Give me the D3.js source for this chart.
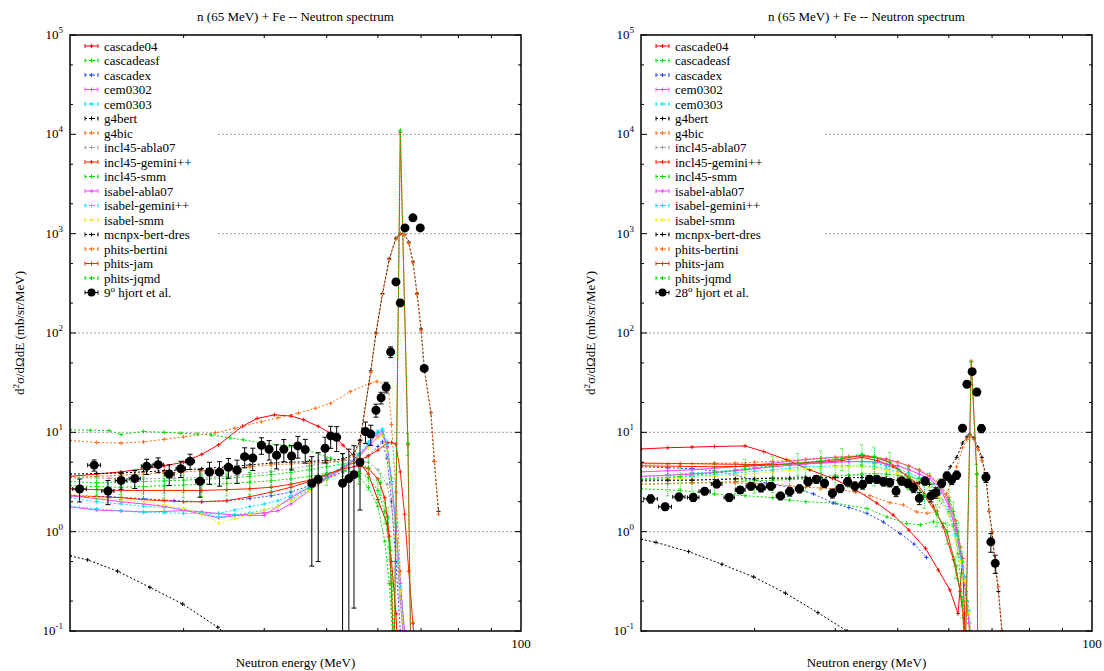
<!DOCTYPE html>
<html>
<head>
<meta charset="utf-8">
<script src="https://cdn.jsdelivr.net/npm/d3@7"></script>
<style>
  body { margin: 0; background: #fff; }
</style>
</head>
<body>
<svg id="chart" width="1104" height="671"></svg>
<script>
// ---- model names and styles (legend order) ----
const modelNames = ["cascade04","cascadeasf","cascadex","cem0302","cem0303","g4bert","g4bic",
  "incl45-abla07","incl45-gemini++","incl45-smm","isabel-abla07","isabel-gemini++","isabel-smm",
  "mcnpx-bert-dres","phits-bertini","phits-jam","phits-jqmd"];
const modelColors = ["#ff0000","#00e000","#2848ff","#ff40ff","#00e0ff","#000000","#ff6a10",
  "#a0a0a0","#ff2000","#00e000","#ff40ff","#00e0ff","#f0f000","#000000","#ff6a10","#ff2000","#00e000"];
const modelDash = ["","2,2","2,2","","2,2","2,2","2,2","2,2","","2,2","","2,2","2,2","2,2","2,2","","2,2"];
const modelRelErr = [0,0,0,0,0,0,0,0,0,0.25,0,0,0,0,0,0,0.25];

// ---- 9 degrees: [energy MeV, d2sigma] ----
const cascade04_9 = [[20,3.6],[22,3.8],[24,4.0],[26,4.3],[28,4.6],[30,5.0],[32,6.0],[34,7.5],[37,11.5],[39,13.8],[41.5,15.0],[44,14.6],[46,13.4],[48.5,11.5],[51,9.6],[53,7.4],[56,5.2],[58,3.8],[60,2.1],[62,1.2],[63,0.5],[64,0.15],[64.5,0.05]];
const cascadeasf_9 = [[20,10.6],[21.5,10.5],[23,10.4],[24,9.5],[26,10.2],[28,10.0],[29.7,9.8],[31.5,9.6],[33.1,9.4],[35.4,8.8],[37.1,8.4],[39.7,7.8],[43.8,7.3],[46.6,6.6],[50.7,5.5],[53,4.6],[56,3.6],[58,2.8],[60,1.8],[61.5,0.8],[62.5,0.3],[63.3,0.08]];
const cascadex_9 = [[20,2.3],[23,2.25],[26,2.15],[29,2.05],[32,2.0],[35,2.05],[38,2.15],[41,2.3],[44,2.5],[47,2.9],[50,3.4],[53,4.0],[56,4.8],[58,5.8],[60,7.2],[61,8.0],[62,5.5],[63,2.0],[64,0.5],[65,0.1]];
const cem0302_9 = [[20,1.78],[22,1.65],[24,1.62],[26,1.58],[28,1.6],[30,1.63],[32,1.58],[34,1.52],[36,1.47],[38,1.46],[40,1.46],[42,1.8],[44,2.2],[47,2.8],[50,3.5],[53,4.4],[56,5.8],[58,7.5],[60,9.8],[61,10.2],[62,7.0],[63,3.0],[64,1.0],[65,0.22],[65.8,0.08]];
const cem0303_9 = [[20,1.8],[22,1.7],[24,1.62],[26,1.56],[28,1.55],[30,1.53],[32,1.53],[34,1.53],[36,1.65],[38,1.79],[40,1.9],[42,2.05],[44,2.3],[47,2.8],[50,3.6],[53,4.6],[56,6.0],[58,8.0],[60,10.3],[61,10.8],[62,8.0],[63,3.5],[64,1.2],[65,0.3],[66,0.1]];
const g4bert_9 = [[20,0.57],[21.3,0.52],[23.7,0.40],[26.6,0.275],[29.9,0.187],[33.9,0.109],[35.5,0.085]];
const g4bic_9 = [[20,8.3],[22,7.9],[24,7.8],[26,8.0],[28,8.5],[30,9.0],[33.6,9.9],[36,11.0],[39.6,12.8],[42,14.0],[45.2,15.6],[48,17.5],[50.7,19.6],[54.4,25.7],[58.3,31],[59.8,32.5],[61.6,30.5],[62.3,28],[63,12],[64,2.5],[65,0.4],[66,0.06]];
const incl45abla07_9 = [[20,3.5],[23,3.45],[26,3.4],[29,3.45],[32,3.5],[35,3.6],[38,3.8],[41,4.0],[44,4.3],[47,4.6],[50,4.9],[53,5.2],[56,5.3],[58,5.0],[60,4.2],[62,3.0],[63,1.8],[64,0.7],[65,0.2],[66,0.06]];
const incl45gemini_9 = [[20,2.3],[22,2.25],[24,2.2],[26,2.1],[28,2.05],[30,2.0],[32,2.0],[35,2.05],[38,2.25],[41,2.5],[44,2.8],[47,3.2],[50,3.7],[53,4.4],[56,5.2],[58,5.8],[60,6.6],[62,7.8],[63,7.9],[64,7.6],[65,4.0],[66,1.5],[67,0.4],[68,0.12],[68.5,0.06]];
const incl45smm_9 = [[20,3.2],[22,3.1],[24,3.15],[26,3.2],[28,3.25],[30,3.3],[32,3.35],[35,3.45],[38,3.6],[41,3.75],[44,3.95],[47,4.2],[50,4.5],[53,4.8],[56,4.9],[58,4.4],[60.6,3.1],[62.2,1.4],[62.8,0.65],[63.1,0.3],[63.5,0.08]];
const isabelabla07_9 = [[20,2.3],[22,2.15],[24,2.0],[26,1.9],[28,1.8],[30,1.65],[32,1.5],[34,1.38],[36,1.45],[38,1.5],[40,1.55],[42,1.62],[44,1.9],[47,2.6],[50,3.4],[53,4.3],[56,5.6],[58,7.2],[60,9.0],[61,9.6],[62,7.2],[63,3.2],[64,1.1],[65,0.3],[66,0.1]];
const isabelgemini_9 = [[20,2.2],[22,2.0],[24,1.9],[26,1.8],[28,1.75],[30,1.7],[32,1.55],[34,1.4],[36,1.48],[38,1.55],[40,1.65],[42,1.8],[44,2.1],[47,2.7],[50,3.4],[53,4.4],[56,5.8],[58,7.6],[60,10.0],[61,10.5],[62,7.5],[63,3.2],[64,1.1],[65,0.28],[66,0.09]];
const isabelsmm_9 = [[20,2.4],[22,2.2],[24,2.1],[26,2.0],[28,1.85],[30,1.7],[32,1.5],[34,1.22],[36,1.35],[38,1.5],[40,1.65],[42,1.8],[44,2.05],[47,2.6],[50,3.3],[53,4.2],[56,5.5],[58,7.0],[60,8.8],[61,9.2],[62,6.5],[63,2.8],[64,0.9],[65,0.25],[66,0.08]];
const mcnpx_9 = [[20,3.8],[22,3.85],[24,3.9],[26,4.0],[28,4.1],[30,4.2],[32,4.3],[35,4.5],[38,4.7],[41,4.9],[44,5.0],[47,5.1],[50,5.2],[53,5.4],[55,6.0],[56.3,8.3],[58.5,41.6],[59.6,100],[61,250],[62.5,560],[64,900],[65,1000],[66,980],[67,820],[68,520],[69,250],[70,110],[70.8,44],[72.5,15.8],[73.4,5.1],[74.5,1.6]];
const phitsbertini_9 = [[20,3.5],[22,3.6],[24,3.7],[26,3.8],[28,3.9],[30,4.0],[32,4.1],[35,4.3],[38,4.5],[41,4.7],[44,4.8],[47,4.9],[50,5.0],[53,5.2],[55,5.8],[56.3,8.0],[58.5,40],[59.6,98],[61,245],[62.5,550],[64,880],[65,990],[66,970],[67,800],[68,510],[69,245],[70,105],[70.8,44],[72.5,15.8],[73.4,5.1],[74.5,1.5]];
const phitsjam_9 = [[20,2.7],[22,2.65],[24,2.6],[26,2.6],[28,2.6],[30,2.6],[32,2.6],[35,2.65],[38,2.7],[41,2.8],[44,3.0],[47,3.3],[50,3.8],[53,4.3],[56,4.6],[58,4.3],[60,3.4],[61.5,2.2],[62.5,0.9],[63.6,0.05],[65,10500],[66.8,7.5],[67.5,0.05]];
const phitsjqmd_9 = [[20,2.9],[22,2.85],[24,2.8],[26,2.85],[28,2.9],[30,2.95],[32,3.0],[35,3.05],[38,3.15],[41,3.25],[44,3.4],[47,3.6],[50,3.9],[53,4.1],[56,4.0],[58,3.5],[60,2.6],[61.5,1.6],[62.5,0.7],[63.6,0.05],[65,11000],[66.8,7.8],[67.5,0.05]];
// hjort et al. 9 deg: [energy, value, error]
const hjort9 = [[20.7,2.69,0.7],[21.8,4.67,0.6],[22.9,2.57,0.7],[24.0,3.27,0.6],[25.2,3.42,0.7],[26.3,4.56,0.8],[27.4,4.73,0.8],[28.5,3.81,0.9],[29.7,4.31,0.8],[30.7,5.12,0.9],[31.8,3.22,1.0],[32.9,3.99,1.0],[34.1,3.97,1.1],[35.2,4.45,1.0],[36.3,4.15,1.1],[37.3,5.69,1.3],[38.4,5.52,1.4],[39.6,7.41,1.4],[40.7,6.76,1.5],[41.8,5.88,1.6],[42.9,6.76,1.7],[44.1,5.78,1.6],[45.1,7.30,1.8],[46.3,6.70,1.8],[47.4,3.07,2.62],[48.5,3.37,2.87],[49.7,6.92,2.0],[50.7,9.2,2.3],[51.8,8.9,2.5],[52.9,3.07,3.05],[54.1,3.42,3.35],[55.1,3.75,3.58],[56.3,5.0,3.35],[57.4,10.2,2.5],[58.5,9.6,2.2],[59.6,16.7,2.5],[60.7,22.3,3],[61.8,28.4,3.5],[62.8,64.5,8],[64.0,327,20],[65.0,201,15],[66.1,1143,40],[68.0,1443,50],[69.8,1143,40],[70.8,44,3]];

// ---- 28 degrees ----
const cascade04_28 = [[20,6.8],[22,7.0],[24,7.1],[26,7.2],[29,7.3],[31,6.4],[33.6,5.3],[36.5,4.2],[39.6,3.45],[42.7,2.73],[46.4,1.94],[49.2,1.47],[52,1.04],[55.2,0.68],[57.8,0.41],[60.2,0.26],[62,0.15],[63,0.54],[63.8,0.05]];
const cascadeasf_28 = [[20,2.7],[23,2.6],[26,2.4],[29,2.3],[32,2.2],[34,2.08],[36,2.0],[40,1.94],[44.8,1.71],[48.1,1.41],[51.6,1.21],[54.2,1.17],[56.8,1.26],[58.8,1.21],[61,1.14],[62,0.6],[63,0.2],[63.8,0.05]];
const cascadex_28 = [[20,4.5],[22,4.4],[24,4.3],[26,4.1],[28,3.7],[31.3,3.07],[34,2.8],[37,2.4],[39.7,1.94],[42,1.75],[44.8,1.53],[47.5,1.25],[50.4,0.96],[53,0.75],[55.4,0.55]];
const cem0302_28 = [[20,4.0],[22,4.1],[24,4.2],[26,4.35],[28,4.5],[30,4.7],[32,4.9],[34,5.1],[36,5.3],[38,5.45],[40,5.6],[42,5.7],[44,5.7],[46,5.6],[48,5.4],[50,5.0],[52,4.6],[54,4.1],[56,3.6],[58,3.0],[60,2.0],[61.5,1.2],[62.5,0.7],[63.5,0.3],[64.5,0.12],[65.2,0.06]];
const cem0303_28 = [[20,3.6],[22,3.7],[24,3.9],[26,4.0],[28,4.2],[30,4.4],[32,4.6],[34,4.8],[36,5.0],[38,5.05],[40,5.1],[42,5.1],[44,5.05],[46,4.9],[48,4.6],[50,4.3],[52,3.9],[54,3.5],[56,3.0],[58,2.4],[60,1.6],[61.5,0.95],[62.5,0.6],[63.5,0.35],[64.5,0.15],[65.2,0.06]];
const g4bert_28 = [[20,0.84],[21.1,0.78],[23.7,0.63],[26.7,0.47],[29.9,0.35],[33.5,0.24],[37.6,0.153],[41.7,0.10],[43,0.085]];
const g4bic_28 = [[20,4.8],[22,4.8],[24,4.85],[26,4.9],[28,4.9],[30,5.0],[32,5.1],[34,5.2],[36,5.35],[38,5.5],[40,5.6],[42,5.7],[44,5.75],[46,5.6],[48,5.3],[50,5.0],[52,4.6],[54,4.2],[56,3.7],[58,3.1],[60,2.2],[61.5,1.3],[62.5,0.7],[63.5,0.3],[64.5,0.1]];
const incl45abla07_28 = [[20,3.2],[24,3.3],[28,3.4],[32,3.5],[36,3.6],[40,3.7],[44,3.7],[48,3.6],[52,3.4],[55,3.1],[58,2.6],[60,2.0],[61,1.5],[62,0.9],[63,0.45],[64,0.2],[65,0.08]];
const incl45gemini_28 = [[20,4.9],[23,4.85],[26,4.8],[29,4.75],[32,4.75],[35,4.8],[38,4.95],[41,5.2],[44,5.6],[46.5,5.2],[49.2,4.5],[51.5,3.7],[53.5,3.07],[55,2.4],[56.8,1.8],[58.8,1.12],[61,0.52],[62.5,0.25],[63.5,0.1],[64,0.05]];
const incl45smm_28 = [[20,3.0],[22,3.05],[24,3.1],[26,3.15],[28,3.2],[30,3.25],[32,3.3],[34,3.35],[36,3.4],[38,3.5],[40,3.6],[42,3.7],[44,3.8],[46,3.85],[48,3.8],[50,3.7],[52,3.6],[54,3.4],[56,3.1],[58,2.7],[60,2.1],[61,1.6],[62,1.0],[63,0.5],[64,0.2],[65,0.08]];
const isabelabla07_28 = [[20,3.6],[22,3.7],[24,3.8],[26,3.95],[28,4.1],[30,4.3],[32,4.5],[34,4.65],[36,4.8],[38,4.9],[40,5.0],[42,5.05],[44,5.1],[46,5.05],[48,4.8],[50,4.6],[52,4.2],[54,3.8],[56,3.4],[58,2.8],[60,1.8],[61.5,1.05],[62.5,0.6],[63.5,0.3],[64.5,0.12],[65.2,0.06]];
const isabelgemini_28 = [[20,3.4],[22,3.5],[24,3.6],[26,3.75],[28,3.9],[30,4.05],[32,4.2],[34,4.35],[36,4.5],[38,4.55],[40,4.6],[42,4.6],[44,4.6],[46,4.5],[48,4.3],[50,4.0],[52,3.7],[54,3.3],[56,2.8],[58,2.2],[60,1.5],[61.5,0.9],[62.5,0.55],[63.5,0.35],[64.5,0.16],[65.2,0.07]];
const isabelsmm_28 = [[20,3.3],[22,3.4],[24,3.5],[26,3.6],[28,3.7],[30,3.85],[32,4.0],[34,4.15],[36,4.3],[38,4.4],[40,4.5],[42,4.5],[44,4.5],[46,4.4],[48,4.15],[50,3.9],[52,3.6],[54,3.2],[56,2.8],[58,2.2],[60,1.5],[61.5,0.85],[62.5,0.5],[63.5,0.32],[64.5,0.15],[65.2,0.07]];
const mcnpx_28 = [[20,3.3],[22,3.3],[24,3.3],[26,3.35],[28,3.4],[30,3.4],[32,3.45],[34,3.45],[36,3.5],[38,3.5],[40,3.5],[42,3.5],[44,3.5],[46,3.45],[48,3.4],[50,3.3],[52,3.2],[54,3.1],[56,3.0],[58.5,3.07],[60.3,4.5],[61.7,5.6],[63,7.8],[64,9.0],[64.6,9.6],[65.6,8.8],[66.5,7.1],[67.5,5.6],[68.5,3.6],[69.3,1.6],[70,1.0],[70.8,0.45],[71.6,0.25],[72.5,0.1]];
const phitsbertini_28 = [[20,3.0],[22,3.05],[24,3.1],[26,3.1],[28,3.1],[30,3.05],[32,3.0],[34,2.9],[36,2.8],[38,2.75],[40,2.7],[43,2.5],[45.3,2.3],[48.6,1.96],[51,1.86],[53.5,1.58],[55.5,1.53],[57.5,1.6],[59.5,2.4],[60.8,3.4],[61.7,4.5],[63,7.0],[64,8.5],[64.6,9.2],[65.6,8.5],[66.5,6.8],[67.5,5.2],[68.5,3.4],[69.3,1.6],[70,1.0],[70.8,0.5],[71.6,0.28],[72.5,0.1]];
const phitsjam_28 = [[20,4.6],[23,4.55],[26,4.5],[29,4.55],[32,4.7],[35,4.9],[38,5.1],[41,5.4],[44,5.9],[46,5.6],[48.6,5.0],[52,3.5],[55,2.3],[57.5,1.5],[59.6,1.0],[61.5,0.45],[63,0.18],[63.6,0.05],[65,52],[66.3,3.8],[66.5,0.05]];
const phitsjqmd_28 = [[20,3.4],[23,3.6],[26,3.9],[29,4.3],[32,4.6],[35,4.9],[38,5.2],[41,5.5],[44,6.0],[46,5.7],[48.6,5.0],[52,3.5],[55,2.3],[57.5,1.5],[59.6,1.0],[61.5,0.45],[63,0.18],[63.6,0.05],[65,51],[66.3,3.8],[66.5,0.05]];
const hjort28 = [[20.7,2.14,0.2],[21.8,1.78,0.15],[22.9,2.24,0.2],[24.1,2.21,0.2],[25.1,2.55,0.2],[26.2,3.02,0.25],[27.4,2.21,0.2],[28.5,2.63,0.2],[29.6,2.87,0.25],[30.7,2.76,0.25],[31.8,2.87,0.25],[32.9,2.29,0.2],[34.0,2.53,0.25],[35.2,2.7,0.25],[36.3,3.18,0.3],[37.4,3.37,0.3],[38.5,3.07,0.3],[39.6,2.43,0.25],[40.7,2.72,0.25],[41.8,3.18,0.3],[42.9,2.87,0.3],[44.1,2.98,0.3],[45.2,3.37,0.3],[46.4,3.37,0.3],[47.5,3.18,0.3],[48.6,3.12,0.3],[49.7,2.55,0.3],[50.7,3.24,0.3],[51.8,3.07,0.3],[52.9,2.77,0.3],[54.0,2.17,0.3],[55.1,3.24,0.3],[56.3,2.29,0.3],[57.3,2.47,0.3],[58.5,3.07,0.3],[59.6,3.64,0.35],[60.6,3.33,0.35],[61.7,3.71,0.35],[63.0,11.0,0.8],[64.0,30.5,2],[65.2,40.8,2.5],[66.3,25.4,2],[67.4,10.9,1],[68.5,3.53,0.4],[69.7,0.79,0.17],[70.8,0.48,0.1]];

const series9 = [cascade04_9, cascadeasf_9, cascadex_9, cem0302_9, cem0303_9, g4bert_9, g4bic_9,
  incl45abla07_9, incl45gemini_9, incl45smm_9, isabelabla07_9, isabelgemini_9, isabelsmm_9,
  mcnpx_9, phitsbertini_9, phitsjam_9, phitsjqmd_9];
const series28 = [cascade04_28, cascadeasf_28, cascadex_28, cem0302_28, cem0303_28, g4bert_28, g4bic_28,
  incl45abla07_28, incl45gemini_28, incl45smm_28, isabelabla07_28, isabelgemini_28, isabelsmm_28,
  mcnpx_28, phitsbertini_28, phitsjam_28, phitsjqmd_28];

const xDomain = [20, 100];
const yDomain = [0.1, 1e5];
const xMinorTicks = [30, 40, 50, 60, 70, 80, 90];
const gridValues = [1, 10, 100, 1000, 10000];

// ---- layout ----
const FONT = "'Liberation Serif', 'Times New Roman', serif";
const svg = d3.select("#chart");
const plotTop = 35, plotBottom = 631;

const panels = [
  {x0: 70, x1: 521, series: series9, data: hjort9, angle: "9", legendW: 147},
  {x0: 641, x1: 1092, series: series28, data: hjort28, angle: "28", legendW: 183}
];

svg.append("rect").attr("width", 1104).attr("height", 671).attr("fill", "#fff");

panels.forEach((p, pi) => drawPanel(p, pi));

function plusPath(px, py, s) {
  return "M" + (px - s) + "," + py + "h" + (2 * s) + "M" + px + "," + (py - s) + "v" + (2 * s);
}

function label(sel, x, y, anchor) {
  return sel.append("text").attr("x", x).attr("y", y).attr("text-anchor", anchor)
    .style("font-family", FONT).attr("font-size", 13).attr("fill", "#000");
}

function drawPanel(p, pi) {
  const x = d3.scaleLog().domain(xDomain).range([p.x0, p.x1]);
  const y = d3.scaleLog().domain(yDomain).range([plotBottom, plotTop]);
  const g = svg.append("g");
  const cx = (p.x0 + p.x1) / 2;

  // title
  label(g, cx, 21, "middle").text("n (65 MeV) + Fe -- Neutron spectrum");

  // grid lines
  g.append("g").selectAll("line").data(gridValues).join("line")
    .attr("x1", p.x0).attr("x2", p.x1)
    .attr("y1", d => y(d)).attr("y2", d => y(d))
    .attr("stroke", "#a0a0a0").attr("stroke-width", 1).attr("stroke-dasharray", "2,2");

  // clip
  const clipId = "clip" + pi;
  svg.append("clipPath").attr("id", clipId).append("rect")
    .attr("x", p.x0).attr("y", plotTop).attr("width", p.x1 - p.x0).attr("height", plotBottom - plotTop);

  const plot = g.append("g").attr("clip-path", "url(#" + clipId + ")");
  const line = d3.line().x(d => x(d[0])).y(d => y(d[1]));

  // model curves
  p.series.forEach((s, i) => {
    const col = modelColors[i];
    const sg = plot.append("g").attr("class", "series");
    sg.append("path").datum(s).attr("d", line)
      .attr("fill", "none").attr("stroke", col).attr("stroke-width", 1)
      .attr("stroke-dasharray", modelDash[i] || null);
    if (modelRelErr[i] > 0) {
      const r = modelRelErr[i];
      // statistical bars only on the continuum part
      sg.selectAll("path.err").data(s.filter(d => d[1] < 20)).join("path").attr("class", "err")
        .attr("d", d => {
          const px = x(d[0]), ylo = y(d[1] * (1 - r)), yhi = y(d[1] * (1 + r));
          return "M" + px + "," + ylo + "V" + yhi + "M" + (px - 2) + "," + ylo + "h4M" + (px - 2) + "," + yhi + "h4";
        })
        .attr("stroke", col).attr("stroke-width", 1).attr("fill", "none")
        .attr("stroke-dasharray", "1,1");
    }
    sg.selectAll("path.mk").data(s).join("path").attr("class", "mk")
      .attr("d", d => plusPath(x(d[0]), y(d[1]), 2))
      .attr("stroke", col).attr("stroke-width", 1).attr("fill", "none");
  });

  // experimental data
  const dg = plot.append("g");
  dg.selectAll("path.ey").data(p.data).join("path").attr("class", "ey")
    .attr("d", d => {
      const px = x(d[0]);
      const ylo = y(Math.max(d[1] - d[2], 0.01)), yhi = y(d[1] + d[2]);
      return "M" + px + "," + ylo + "V" + yhi + "M" + (px - 2.5) + "," + ylo + "h5M" + (px - 2.5) + "," + yhi + "h5";
    })
    .attr("stroke", "#000").attr("stroke-width", 1).attr("fill", "none");
  dg.selectAll("path.ex").data(p.data).join("path").attr("class", "ex")
    .attr("d", d => {
      const py = y(d[1]), xl = x(d[0] - 0.5), xr = x(d[0] + 0.5);
      return "M" + xl + "," + py + "H" + xr + "M" + xl + "," + (py - 2) + "v4M" + xr + "," + (py - 2) + "v4";
    })
    .attr("stroke", "#000").attr("stroke-width", 1).attr("fill", "none");
  dg.selectAll("circle").data(p.data).join("circle")
    .attr("cx", d => x(d[0])).attr("cy", d => y(d[1])).attr("r", 4.5).attr("fill", "#000");

  // legend (opaque box)
  const lg = g.append("g");
  lg.append("rect").attr("x", p.x0 + 1).attr("y", plotTop + 1)
    .attr("width", p.legendW).attr("height", 268).attr("fill", "#fff");
  const rowY = i => 46 + i * 14.5;
  const sx0 = p.x0 + 15, sx1 = p.x0 + 28, tx = p.x0 + 34;
  modelNames.forEach((name, i) => {
    const yy = rowY(i), col = modelColors[i];
    lg.append("line").attr("x1", sx0).attr("x2", sx1).attr("y1", yy).attr("y2", yy)
      .attr("stroke", col).attr("stroke-width", 1).attr("stroke-dasharray", modelDash[i] || null);
    lg.append("path")
      .attr("d", "M" + sx0 + "," + (yy - 2) + "v4M" + sx1 + "," + (yy - 2) + "v4" + plusPath((sx0 + sx1) / 2, yy, 2))
      .attr("stroke", col).attr("stroke-width", 1).attr("fill", "none");
    label(lg, tx, yy + 4.5, "start").text(name);
  });
  const dy = rowY(modelNames.length);
  lg.append("line").attr("x1", sx0).attr("x2", sx1).attr("y1", dy).attr("y2", dy).attr("stroke", "#000");
  lg.append("path").attr("d", "M" + sx0 + "," + (dy - 2) + "v4M" + sx1 + "," + (dy - 2) + "v4")
    .attr("stroke", "#000").attr("fill", "none");
  lg.append("circle").attr("cx", (sx0 + sx1) / 2).attr("cy", dy).attr("r", 4).attr("fill", "#000");
  const lt = label(lg, tx, dy + 4.5, "start");
  lt.append("tspan").text(p.angle);
  lt.append("tspan").attr("dy", -5).attr("font-size", 9).text("o");
  lt.append("tspan").attr("dy", 5).text(" hjort et al.");

  // frame
  g.append("rect").attr("x", p.x0).attr("y", plotTop)
    .attr("width", p.x1 - p.x0).attr("height", plotBottom - plotTop)
    .attr("fill", "none").attr("stroke", "#000").attr("stroke-width", 1.5);

  // y ticks (both sides)
  const majors = d3.range(-1, 6).map(e => Math.pow(10, e));
  const minors = [];
  majors.slice(0, -1).forEach(m => { minors.push(m * 2); minors.push(m * 5); });
  const tk = g.append("g").attr("stroke", "#000").attr("stroke-width", 1);
  majors.forEach(v => {
    tk.append("line").attr("x1", p.x0).attr("x2", p.x0 + 6).attr("y1", y(v)).attr("y2", y(v));
    tk.append("line").attr("x1", p.x1).attr("x2", p.x1 - 6).attr("y1", y(v)).attr("y2", y(v));
  });
  minors.forEach(v => {
    tk.append("line").attr("x1", p.x0).attr("x2", p.x0 + 3).attr("y1", y(v)).attr("y2", y(v));
    tk.append("line").attr("x1", p.x1).attr("x2", p.x1 - 3).attr("y1", y(v)).attr("y2", y(v));
  });
  xMinorTicks.forEach(v => {
    tk.append("line").attr("x1", x(v)).attr("x2", x(v)).attr("y1", plotBottom).attr("y2", plotBottom - 3);
    tk.append("line").attr("x1", x(v)).attr("x2", x(v)).attr("y1", plotTop).attr("y2", plotTop + 3);
  });

  // y tick labels 10^n
  d3.range(-1, 6).forEach(e => {
    const t = label(g, p.x0 - 7, y(Math.pow(10, e)) + 4, "end");
    t.append("tspan").text("10");
    t.append("tspan").attr("dy", -6).attr("font-size", 9).text(e);
  });

  // x tick label and axis titles
  label(g, p.x1, 648, "middle").text("100");
  label(g, cx, 667, "middle").text("Neutron energy (MeV)");
  const yl = g.append("text")
    .attr("transform", "translate(" + (p.x0 - 46) + "," + ((plotTop + plotBottom) / 2) + ") rotate(-90)")
    .attr("text-anchor", "middle").style("font-family", FONT).attr("font-size", 13).attr("fill", "#000");
  yl.append("tspan").text("d");
  yl.append("tspan").attr("dy", -5).attr("font-size", 9).text("2");
  yl.append("tspan").attr("dy", 5).text("σ/dΩdE (mb/sr/MeV)");
}
</script>
</body>
</html>
